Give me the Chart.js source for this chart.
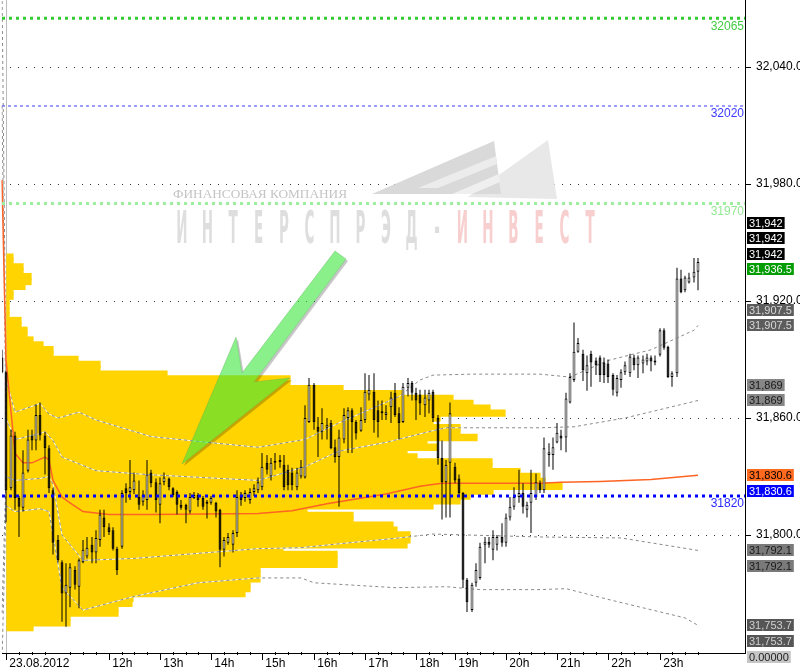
<!DOCTYPE html>
<html>
<head>
<meta charset="utf-8">
<script src="https://cdn.jsdelivr.net/npm/chart.js@4.4.0/dist/chart.umd.min.js"></script>
<style>
  html, body { margin: 0; padding: 0; background: #fff; overflow: hidden; width: 800px; height: 669px; }
  canvas { display: block; }
</style>
</head>
<body>
<canvas id="chart" width="810" height="669"></canvas>
<script>
// ---- 5-minute bars, 23.08.2012 (bar 0 = last bar of the previous evening) ----
const open = [
  31891, 31883.5, 31824, 31851, 31819, 31814, 31833, 31851, 31848.5, 31861.5,
  31851, 31844.5, 31823, 31797.5, 31786, 31770, 31773, 31782, 31773.5, 31786,
  31789, 31795, 31791, 31797.5, 31809, 31804, 31802.5, 31793, 31794, 31824,
  31822, 31823, 31819.5, 31817, 31818, 31832, 31827, 31815.5, 31827, 31829,
  31824, 31822, 31815.5, 31815.5, 31812, 31819, 31820.5, 31819, 31816, 31816.5,
  31816.5, 31813, 31792.5, 31796, 31795, 31801, 31820.5, 31819, 31818, 31822,
  31823, 31824.5, 31837, 31830, 31837, 31837.5, 31836, 31833.5, 31832, 31824.5,
  31830, 31829.5, 31858, 31877, 31855.5, 31853, 31855, 31857.5, 31845, 31840,
  31849, 31860, 31864, 31858, 31853.5, 31859, 31872, 31873.5, 31864, 31863.5,
  31861.5, 31865.5, 31873, 31862.5, 31858, 31875.5, 31878, 31873, 31872, 31866.5,
  31869, 31873.5, 31860, 31839.5, 31827, 31837, 31835, 31829, 31821.5, 31777,
  31761.5, 31775.5, 31778, 31795, 31796.5, 31792.5, 31795, 31799, 31796, 31809,
  31814.5, 31819.5, 31821.5, 31813, 31816.5, 31819.5, 31826.5, 31823, 31841, 31841,
  31847.5, 31851, 31850, 31868, 31879.5, 31894, 31893, 31883, 31893, 31889.5,
  31891, 31888.5, 31888, 31882, 31873, 31879.5, 31883.5, 31883, 31891, 31887,
  31888, 31889, 31891, 31888.5, 31892.5, 31905, 31896.5, 31881, 31883, 31931.5,
  31925.5, 31929.5, 31932, 31935
];
const high = [
  31895, 31884, 31854, 31853, 31820, 31843.5, 31854, 31854, 31867, 31868,
  31853, 31846, 31824, 31800, 31787, 31785.5, 31785.5, 31784, 31788, 31797.5,
  31799, 31799, 31802.5, 31813, 31813, 31806, 31804, 31794, 31823, 31826.5,
  31838.5, 31832, 31828, 31823, 31838.5, 31833.5, 31829, 31829.5, 31832, 31829.5,
  31824.5, 31823, 31818, 31816, 31821.5, 31822, 31821.5, 31820, 31818, 31820,
  31817, 31813.5, 31799, 31801, 31802.5, 31823, 31822, 31823, 31824, 31826,
  31829.5, 31842, 31841, 31839.5, 31842, 31841, 31841, 31836, 31834.5, 31834.5,
  31838.5, 31866.5, 31880.5, 31878, 31860.5, 31865, 31860, 31859, 31849, 31854,
  31865, 31865.5, 31865, 31859, 31865.5, 31883, 31882, 31883, 31869, 31869,
  31866.5, 31873.5, 31878, 31865.5, 31878, 31880.5, 31879, 31875.5, 31874.5, 31874.5,
  31874.5, 31874.5, 31861.5, 31848.5, 31838.5, 31868, 31837, 31831, 31822, 31778,
  31775.5, 31785.5, 31796, 31799, 31799, 31802.5, 31800, 31806, 31811, 31819.5,
  31824.5, 31833.5, 31826.5, 31817, 31833.5, 31831.5, 31828, 31850, 31847, 31850,
  31857.5, 31854, 31873, 31883, 31909, 31901, 31895, 31892, 31894.5, 31891,
  31892, 31891, 31890, 31883, 31882, 31885, 31889, 31893, 31892.5, 31892,
  31892, 31893, 31892, 31892, 31906, 31906, 31897, 31884, 31937, 31936,
  31933, 31934.5, 31942, 31942
];
const low = [
  31883, 31806.5, 31823, 31813, 31799, 31812, 31832, 31843.5, 31843.5, 31848.5,
  31831, 31821.5, 31790, 31786, 31755.5, 31753, 31763, 31772, 31762.5, 31785.5,
  31788, 31785.5, 31785.5, 31794, 31799, 31800, 31792, 31779.5, 31793, 31816.5,
  31818, 31821, 31813, 31815, 31813, 31824.5, 31811.5, 31806, 31825.5, 31823,
  31819.5, 31810.5, 31813, 31806, 31811, 31818.5, 31814.5, 31813, 31808.5, 31815.5,
  31809, 31783.5, 31789, 31795, 31791, 31799, 31815, 31817, 31816, 31820,
  31821.5, 31823, 31831, 31828, 31833.5, 31834.5, 31823, 31823, 31823, 31823,
  31829, 31829, 31857.5, 31854, 31840, 31849, 31849, 31844, 31837, 31814.5,
  31847, 31842, 31842, 31849, 31853, 31857.5, 31869, 31852.5, 31850, 31859,
  31859, 31857.5, 31860.5, 31849, 31857.5, 31871, 31869, 31859, 31861.5, 31860.5,
  31862.5, 31858, 31836, 31808, 31809, 31809, 31826.5, 31819.5, 31772.8, 31760.5,
  31760.5, 31773.5, 31777, 31785.5, 31793.5, 31787, 31792, 31794, 31794, 31807.5,
  31813, 31816.5, 31811, 31809, 31801, 31818, 31821.5, 31821.5, 31835, 31833.5,
  31847, 31843.5, 31842.5, 31867.5, 31878.5, 31893.5, 31879, 31874, 31876, 31882,
  31878.5, 31878, 31878, 31871.5, 31871, 31875.5, 31882, 31881, 31884.5, 31880.5,
  31883, 31887, 31884, 31887, 31891.5, 31895, 31880.5, 31876, 31881, 31924,
  31924.5, 31929, 31929.5, 31925.5
];
const close = [
  31883.5, 31823, 31851, 31819, 31814.5, 31832, 31849, 31848.5, 31861.5, 31851,
  31844.5, 31824, 31796, 31787, 31770, 31774.5, 31783.5, 31774.5, 31787, 31792.5,
  31793.5, 31791, 31798.5, 31810.5, 31804, 31801.5, 31793, 31782, 31821.5, 31821.5,
  31824.5, 31828, 31815.5, 31820.5, 31831, 31826.5, 31818, 31826.5, 31829.5, 31824.5,
  31820.5, 31815.5, 31814, 31813, 31819.5, 31820.5, 31818, 31814.5, 31817, 31819,
  31812, 31792.5, 31797.5, 31799, 31801, 31819.5, 31818, 31821.5, 31822, 31824,
  31827, 31835, 31833.5, 31837, 31838, 31838.5, 31824.5, 31825.5, 31825.5, 31832,
  31835, 31860, 31877, 31858, 31853, 31857.5, 31856.5, 31844.5, 31840, 31850,
  31861.5, 31864, 31858, 31852, 31859, 31873.5, 31874.5, 31859, 31858, 31862.5,
  31863, 31870.5, 31861.5, 31857.5, 31876, 31878, 31873, 31869, 31867.5, 31870.5,
  31873, 31860, 31839.5, 31827, 31836, 31862.5, 31828, 31821.5, 31777, 31765.5,
  31774.5, 31782, 31794, 31796.5, 31795, 31799, 31799, 31796, 31809, 31814.5,
  31819.5, 31821.5, 31814.5, 31815.5, 31821.5, 31827, 31823, 31844.5, 31842.5, 31845,
  31852.5, 31849.5, 31870, 31881, 31894, 31898.5, 31884.5, 31887, 31888.5, 31887,
  31882, 31882, 31881, 31874.5, 31880.5, 31883.5, 31887, 31891.5, 31887, 31891,
  31890, 31891, 31889, 31889.5, 31905, 31896, 31881, 31883, 31931.5, 31924.5,
  31932, 31932, 31935, 31940
];

// VWAP and its deviation bands, as [bar index, price] vertices
const vwapPts = [[0,31982],[1,31890],[3,31842],[5,31837],[7,31837],[10,31840],[11,31838.5],[12,31828],
  [14,31819.5],[16,31816.5],[19,31812],[25,31810.5],[35,31810.5],[60,31811],[68,31812.5],[76,31816],
  [83,31818.5],[90,31821],[98,31825],[103,31826.5],[109,31826.5],[126,31826.5],[131,31827],[140,31827.5],
  [152,31828.5],[163,31830.6]];
const upper2Pts = [[0,32080],[1,31880],[3,31863],[7,31866],[9,31867.5],[11,31862],[13,31860],[18,31863],
  [22,31859],[35,31850.5],[46,31848],[60,31845],[71,31849],[79,31857.5],[93,31871],[98,31879.5],
  [101,31882],[110,31882.5],[126,31882.5],[133,31881],[142,31889.5],[152,31895],[162,31905],[163,31907.5]];
const upper1Pts = [[0,32020],[1,31860],[3,31849],[9,31852],[10,31853],[12,31848.5],[14,31840],[22,31833],
  [34,31831],[60,31828],[71,31835],[79,31843],[90,31847.5],[100,31853],[104,31855],[126,31855],
  [134,31855.5],[146,31860],[163,31869]];
const lower1Pts = [[0,31760],[1,31830],[3,31828],[9,31829],[11,31830],[12,31826],[14,31800],[19,31787],
  [31,31788],[60,31793],[70,31793.5],[79,31795.5],[93,31798.5],[101,31800.5],[126,31799],[145,31798.5],
  [163,31792.1]];
const lower2Pts = [[0,31735],[1,31815],[3,31812],[9,31813.5],[11,31812],[14,31773],[19,31761.5],[31,31768.5],
  [46,31775.5],[60,31778],[70,31778],[73,31775.5],[92,31773],[104,31773.5],[112,31772],[126,31772],
  [132,31772.5],[142,31767],[160,31757.5],[163,31753.7]];

// volume profile, bins of 2.5 points from 31942.5 downwards
const profileTop = 31942.5, profileStep = 2.5;
const profileVolume = [
  1.2, 1.2, 3.2, 3.2, 4.8, 4.8, 3.6, 1.2, 1.2, 0.4,
  0.4, 0.4, 0.4, 2.8, 2.8, 4, 4, 5.2, 7.2, 9.2,
  9.2, 14.2, 18.6, 18.6, 32, 56.6, 56.6, 67.2, 79.2, 89.2,
  93.2, 96.6, 99.6, 86.6, 85.2, 90.6, 90.6, 94, 84, 86,
  80, 82, 97, 97, 102.6, 106.6, 107.6, 111, 97.2, 92.6,
  90.6, 85.2, 60, 69.2, 69.2, 77.2, 78, 80.6, 80.6, 80,
  55.2, 66, 66, 66, 50.6, 50.6, 50.6, 48.6, 48.6, 47.6,
  25.2, 25, 22.2, 22.2, 12.6, 12.6, 5.2
];
const profileBins = profileVolume.map((_, i) => profileTop - i * profileStep);

// horizontal levels
const levelValues = [32065, 32020, 31970, 31820];
const levelStyles = [
  { color: '#33cc33', text: '#44cc44', width: 3, dash: [3, 4] },
  { color: '#3b3bff', text: '#3b3bff', width: 1, dash: [3, 3] },
  { color: '#9dee9d', text: '#92e892', width: 3, dash: [3, 4] },
  { color: '#0000ff', text: '#2a2aff', width: 3, dash: [3, 4] }
];

// price tags on the right axis
const tagValues = [31942, 31942, 31942, 31936.5, 31907.5, 31907.5, 31869, 31869,
  31830.6, 31830.6, 31792.1, 31792.1, 31753.7, 31753.7];
const tagStyles = [
  { bg: '#000', fg: '#fff', stack: 'up' }, { bg: '#000', fg: '#fff', stack: 'up' }, { bg: '#000', fg: '#fff', stack: 'up' },
  { bg: '#009c00', fg: '#fff', stack: 'up' },
  { bg: '#5c5c5c', fg: '#d8d8d8', stack: 'up' }, { bg: '#5c5c5c', fg: '#d8d8d8', stack: 'up' },
  { bg: '#868686', fg: '#1a1a1a', stack: 'up' }, { bg: '#868686', fg: '#1a1a1a', stack: 'up' },
  { bg: '#ff6a1e', fg: '#000', stack: 'down' }, { bg: '#0000ff', fg: '#fff', stack: 'down' },
  { bg: '#7a7a7a', fg: '#1a1a1a', stack: 'down' }, { bg: '#7a7a7a', fg: '#1a1a1a', stack: 'down' },
  { bg: '#555555', fg: '#cfcfcf', stack: 'down' }, { bg: '#555555', fg: '#cfcfcf', stack: 'down' }
];

const yTicks = [32040, 31980, 31920, 31860, 31800];
const yMax = 32074.36, yMin = 31739.5;

// time axis: categories, plus empty slots to the right of the last bar
const pad = n => String(n).padStart(2, '0');
const timeLabels = ['22.08 23:45'];
for (let h = 10; h <= 23; h++) {
  for (let m = 0; m < 60; m += 5) {
    if (h === 18 && m > 40) continue;   // evening clearing
    if (h === 23 && m > 45) continue;
    timeLabels.push(pad(h) + ':' + pad(m));
  }
}
['23:50', '23:55', '00:00', '00:05', '00:10', '00:15', '00:20', '00:25', '00:30', '00:35', '00:40']
  .forEach(t => timeLabels.push(t));
const hourTicks = { '10:00': '23.08.2012', '12:00': '12h', '13:00': '13h', '14:00': '14h', '15:00': '15h',
  '16:00': '16h', '17:00': '17h', '18:00': '18h', '19:00': '19h', '20:00': '20h', '21:00': '21h',
  '22:00': '22h', '23:00': '23h' };

// annotation arrow, vertices as [bar index, price]
const arrowShape = [[78.0, 31945.6], [80.6, 31941.5], [59.0, 31878.5], [67.4, 31880.5],
  [42.2, 31836.4], [54.8, 31901.5], [56.2, 31883.1]];

const toPts = pts => pts.map(([i, v]) => ({ x: timeLabels[i], y: v }));
const fmt = v => v.toLocaleString('en-US', { maximumFractionDigits: 1 });

Chart.defaults.font.family = "'Liberation Sans', Arial, sans-serif";

function bandSet(pts) {
  return [
    { type: 'line', data: toPts(pts), xAxisID: 'x', yAxisID: 'y', borderColor: 'rgba(255,255,255,0.9)',
      borderWidth: 1, pointRadius: 0, tension: 0, order: 15 },
    { type: 'line', data: toPts(pts), xAxisID: 'x', yAxisID: 'y', borderColor: '#8a8a8a',
      borderWidth: 1, borderDash: [3, 3], pointRadius: 0, tension: 0, order: 14 }
  ];
}

const overlay = {
  id: 'overlay',
  beforeDatasetsDraw(chart) {
    const ctx = chart.ctx;
    ctx.save();
    // logo
    const polys = [
      { c: '#e8e8e8', p: [[468, 197], [548, 140], [557, 199]] },
      { c: '#d9d9d9', p: [[372, 194], [494, 141], [501, 194]] },
      { c: '#ececec', p: [[418, 188], [496, 156], [497, 164], [438, 188]] },
      { c: '#efefef', p: [[452, 194], [499, 174], [500, 182], [472, 194]] }
    ];
    polys.forEach(o => {
      ctx.beginPath();
      o.p.forEach(([x, y], k) => k ? ctx.lineTo(x, y) : ctx.moveTo(x, y));
      ctx.closePath();
      ctx.fillStyle = o.c;
      ctx.fill();
    });
    // company name
    ctx.font = '13px "Liberation Serif", serif';
    ctx.fillStyle = '#c4c4c4';
    ctx.textBaseline = 'alphabetic';
    ctx.textAlign = 'left';
    const small = 'ФИНАНСОВАЯ КОМПАНИЯ';
    const sw = ctx.measureText(small).width;
    ctx.save();
    ctx.translate(173, 198);
    ctx.scale(174 / sw, 1);
    ctx.fillText(small, 0, 0);
    ctx.restore();
    const big = 'ИНТЕРСПРЭД-ИНВЕСТ';
    ctx.font = 'bold 45px "DejaVu Sans", sans-serif';
    ctx.textAlign = 'center';
    for (let k = 0; k < big.length; k++) {
      ctx.save();
      ctx.translate(182 + 25.5 * k, 243);
      ctx.scale(0.3, 1);
      ctx.fillStyle = k > 10 ? '#f8cfcf' : '#dedede';
      ctx.fillText(big[k], 0, 0);
      ctx.restore();
    }
    ctx.restore();
  },
  afterDatasetsDraw(chart) {
    const ctx = chart.ctx, xs = chart.scales.x, ys = chart.scales.y;
    const pts = arrowShape.map(([i, v]) => [xs.getPixelForValue(i), ys.getPixelForValue(v)]);
    const path = (dx, dy) => {
      ctx.beginPath();
      pts.forEach(([x, y], k) => k ? ctx.lineTo(x + dx, y + dy) : ctx.moveTo(x + dx, y + dy));
      ctx.closePath();
    };
    // shadow outside the arrow only
    ctx.save();
    ctx.beginPath();
    ctx.rect(0, 0, chart.width, chart.height);
    pts.forEach(([x, y], k) => k ? ctx.lineTo(x, y) : ctx.moveTo(x, y));
    ctx.closePath();
    ctx.clip('evenodd');
    path(2, 2);
    ctx.fillStyle = 'rgba(0,0,0,0.22)';
    ctx.fill();
    ctx.restore();
    ctx.save();
    path(0, 0);
    ctx.fillStyle = 'rgba(60,230,60,0.6)';
    ctx.fill();
    ctx.strokeStyle = 'rgba(90,170,90,0.5)';
    ctx.lineWidth = 0.7;
    ctx.stroke();
    ctx.restore();
  },
  afterDraw(chart) {
    const ctx = chart.ctx, xs = chart.scales.x, ys = chart.scales.y, area = chart.chartArea;
    ctx.save();
    // quarter-hour minor ticks on the time axis
    ctx.fillStyle = '#000';
    timeLabels.forEach((t, i) => {
      if (i > 0 && i < 164 && /:(15|30|45)$/.test(t)) {
        ctx.fillRect(Math.round(xs.getPixelForValue(i)), area.bottom - 1, 1, 3);
      }
    });
    // level captions
    ctx.font = '12px "Liberation Sans", Arial, sans-serif';
    ctx.textAlign = 'right';
    ctx.textBaseline = 'top';
    levelValues.forEach((v, i) => {
      ctx.fillStyle = levelStyles[i].text;
      ctx.fillText(String(v), area.right - 1, ys.getPixelForValue(v) + 2);
    });
    // price tags
    const gap = 15.3;
    const tags = tagValues.map((v, i) => ({ value: v, ...tagStyles[i], text: fmt(v) }));
    const up = tags.filter(t => t.stack === 'up').sort((a, b) => a.value - b.value);
    const down = tags.filter(t => t.stack === 'down').sort((a, b) => b.value - a.value);
    let prev = Infinity;
    up.forEach(t => { t.py = Math.min(ys.getPixelForValue(t.value), prev - gap); prev = t.py; });
    prev = -Infinity;
    down.forEach(t => { t.py = Math.max(ys.getPixelForValue(t.value), prev + gap); prev = t.py; });
    down.push({ text: '0.00000', bg: '#c6c6c6', fg: '#222', py: prev + gap + 1 });
    ctx.font = '11px "Liberation Sans", Arial, sans-serif';
    ctx.textAlign = 'left';
    ctx.textBaseline = 'middle';
    up.concat(down).forEach(t => {
      const w = ctx.measureText(t.text).width + 4;
      ctx.fillStyle = t.bg;
      ctx.fillRect(area.right + 2, Math.round(t.py) - 6, w, 12);
      ctx.fillStyle = t.fg;
      ctx.fillText(t.text, area.right + 4, Math.round(t.py) + 0.5);
    });
    ctx.restore();
  }
};

const datasets = [
  {
    type: 'bar', data: profileBins.map((p, i) => ({ x: profileVolume[i], y: p })),
    indexAxis: 'y', xAxisID: 'xv', yAxisID: 'yv', backgroundColor: '#ffd400', borderWidth: 0,
    inflateAmount: 0.6, grouped: false, barPercentage: 1.25, categoryPercentage: 1, order: 20
  },
  ...bandSet(upper2Pts), ...bandSet(upper1Pts), ...bandSet(lower1Pts), ...bandSet(lower2Pts),
  {
    type: 'line', data: toPts(vwapPts), xAxisID: 'x', yAxisID: 'y', borderColor: '#ff6424',
    borderWidth: 1.5, pointRadius: 0, tension: 0, order: 12
  },
  {
    type: 'bar', data: low.map((l, i) => [l, high[i]]), xAxisID: 'x', yAxisID: 'y',
    backgroundColor: '#000', borderWidth: 0, maxBarThickness: 1, grouped: false, order: 6
  },
  {
    type: 'bar', data: open.map((o, i) => [o, close[i]]), xAxisID: 'x', yAxisID: 'y',
    backgroundColor: ctx => close[ctx.dataIndex] >= open[ctx.dataIndex] ? '#ffffff' : '#000000',
    borderColor: '#000', borderWidth: 1, borderSkipped: false, maxBarThickness: 4, minBarLength: 1,
    inflateAmount: 0, grouped: false, order: 5
  },
  ...levelValues.map((v, i) => ({
    type: 'line', data: [{ x: timeLabels[0], y: v }, { x: timeLabels[timeLabels.length - 1], y: v }],
    xAxisID: 'x', yAxisID: 'y', borderColor: levelStyles[i].color, borderWidth: levelStyles[i].width,
    borderDash: levelStyles[i].dash, borderCapStyle: 'butt', pointRadius: 0, order: 1
  }))
];

new Chart(document.getElementById('chart'), {
  type: 'bar',
  data: { labels: timeLabels, datasets },
  options: {
    responsive: false,
    animation: false,
    events: [],
    layout: { padding: { left: 2, top: 0, right: 0, bottom: 0 } },
    plugins: { legend: { display: false }, tooltip: { enabled: false } },
    scales: {
      x: {
        type: 'category', position: 'bottom', offset: false, alignToPixels: true,
        grid: {
          offset: false, drawOnChartArea: true, tickLength: 7,
          color: c => c.index === 1 ? '#bdbdbd' : 'rgba(0,0,0,0)',
          tickColor: c => hourTicks[timeLabels[c.index]] ? '#000' : 'rgba(0,0,0,0)'
        },
        border: { color: '#000' },
        ticks: {
          autoSkip: false, maxRotation: 0, minRotation: 0, align: 'start', padding: -4,
          color: '#000', font: { size: 12 },
          callback: (v, i) => hourTicks[timeLabels[i]] ? ' ' + hourTicks[timeLabels[i]] : ''
        },
        afterFit(s) { s.height = 16; s.paddingLeft = 0; s.paddingRight = 0; }
      },
      y: {
        type: 'linear', position: 'right', min: yMin, max: yMax, offset: false, beginAtZero: false, z: 1,
        afterBuildTicks(s) { s.ticks = yTicks.map(v => ({ value: v })); },
        grid: { color: '#333', tickLength: 6, tickColor: '#000' },
        border: { color: '#000', dash: [1, 7] },
        ticks: {
          color: '#000', font: { size: 12 }, padding: 5,
          callback: v => v.toLocaleString('en-US', { minimumFractionDigits: 1, maximumFractionDigits: 1 })
        },
        afterFit(s) { s.width = 65; s.paddingTop = 0; s.paddingBottom = 0; }
      },
      xv: { type: 'linear', display: false, min: -1, max: 147.6, offset: false, beginAtZero: false },
      yv: { type: 'linear', display: false, min: yMin, max: yMax, offset: false, beginAtZero: false }
    }
  },
  plugins: [overlay]
});
</script>
</body>
</html>
